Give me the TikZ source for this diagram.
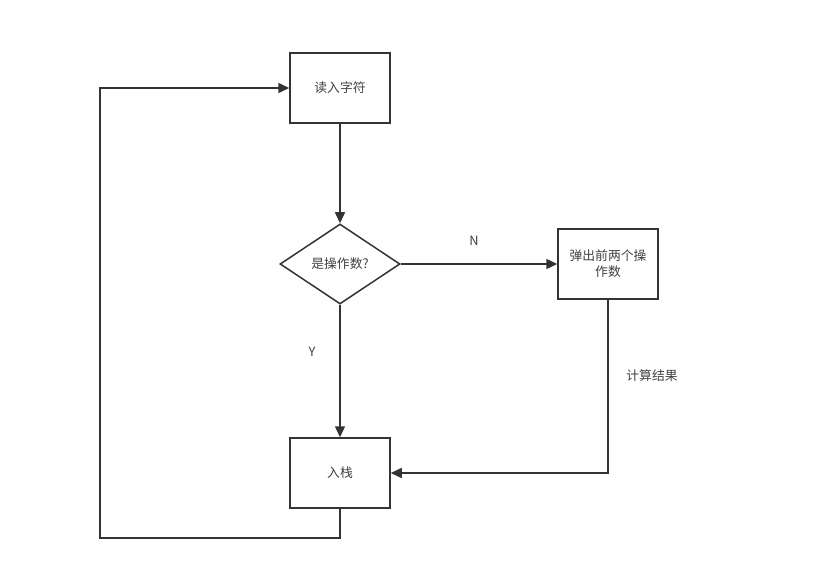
\documentclass[tikz,border=0pt]{standalone}
\usepackage{fontspec}
\newfontfamily\cjk{Noto Sans CJK SC}
\usetikzlibrary{shapes.geometric,arrows.meta}
\begin{document}
\begin{tikzpicture}[x=1pt,y=-1pt,
  every node/.style={font=\cjk\fontsize{12.8}{16}\selectfont, text=black!75},
  box/.style={draw=black!80, line width=1.5pt, minimum width=100pt, minimum height=70pt, inner sep=0pt, align=center},
  dec/.style={draw=black!80, line width=1.5pt, diamond, minimum width=120pt, minimum height=80pt, inner sep=0pt, aspect=1.5},
  conn/.style={draw=black!80, line width=1.5pt, -{Triangle[length=11pt,width=10pt]}},
  lbl/.style={font=\cjk\fontsize{12.8}{16}\selectfont}]
\useasboundingbox (0,0) rectangle (822,588);
\node[box] (read) at (340,88) {读入字符};
\node[dec] (isop) at (340,264) {是操作数?};
\node[box] (pop) at (608,264) {弹出前两个操\\作数};
\node[box] (push) at (340,473) {入栈};
\coordinate (c1) at (340,538);
\coordinate (c2) at (100,538);
\coordinate (c3) at (100,88);
\draw[conn] (read) -- (isop);
\draw[conn] (isop) -- (pop);
\draw[conn] (isop) -- (push);
\draw[conn] (pop.south) |- (push.east);
\draw[conn] (push.south) -- (c1) -- (c2) -- (c3) -- (read.west);
\node[lbl] (nlbl) at (474,241) {N};
\node[lbl] (ylbl) at (312,352) {Y};
\node[lbl] (calc) at (652,376) {计算结果};
\end{tikzpicture}
\end{document}
